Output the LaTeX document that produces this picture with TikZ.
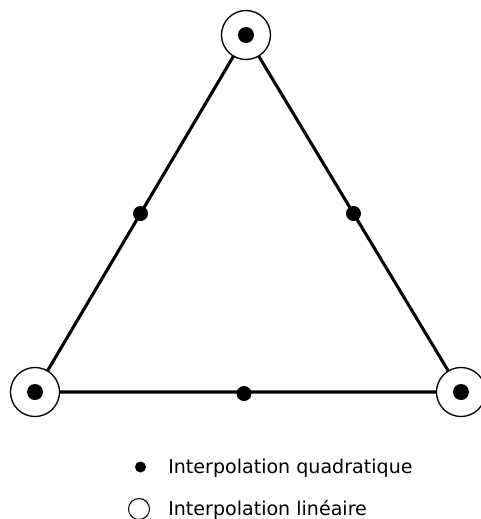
\documentclass[tikz,border=0pt]{standalone}
\usepackage{fontspec}
\setmainfont{DejaVu Sans}
\usetikzlibrary{calc}
\begin{document}
\begin{tikzpicture}[x=0.75pt,y=-0.75pt,
  edge/.style={line width=2.3pt},
  vring/.style={circle,draw,fill=white,line width=1pt,minimum size=49*0.75pt,inner sep=0pt},
  vdot/.style={circle,fill=black,minimum size=16*0.75pt,inner sep=0pt},
  mdot/.style={circle,fill=black,minimum size=15*0.75pt,inner sep=0pt},
  ldot/.style={circle,fill=black,minimum size=11*0.75pt,inner sep=0pt},
  lring/.style={circle,draw,line width=0.8pt,minimum size=21*0.75pt,inner sep=0pt},
  lab/.style={anchor=base west,font=\fontsize{14.3pt}{16pt}\selectfont,inner sep=0pt}]
\useasboundingbox (0,0) rectangle (480,519);
\coordinate (A) at (246,35);
\coordinate (B) at (35,392);
\coordinate (C) at (461,392);
\draw[edge] (A) -- (B) -- (C) -- cycle;
\node[vring] (ra) at (A) {};
\node[vring] (rb) at (B) {};
\node[vring] (rc) at (C) {};
\node[vdot] (da) at (A) {};
\node[vdot] (db) at (B) {};
\node[vdot] (dc) at (C) {};
\node[mdot] (mab) at ($(A)!0.5!(B)$) {};
\node[mdot] (mac) at ($(A)!0.5!(C)$) {};
\node[mdot] (mbc) at (244,393.5) {};
\node[ldot] (l1) at (140.5,467) {};
\node[lab] (t1) at (168,473) {Interpolation quadratique};
\node[lring] (l2) at (139,509) {};
\node[lab] (t2) at (168,515.5) {Interpolation linéaire};
\end{tikzpicture}
\end{document}
